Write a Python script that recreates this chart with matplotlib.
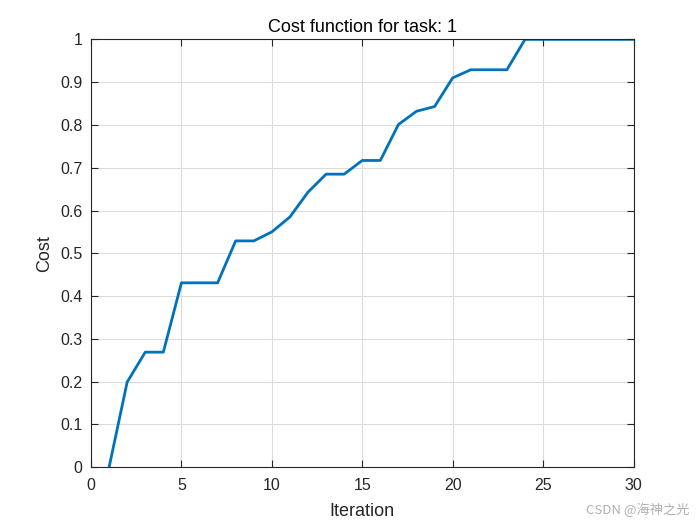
import numpy as np
import matplotlib
matplotlib.use('Agg')
import matplotlib.pyplot as plt

# Valori
iterations = list(range(1, 31))
cost = [0.0, 0.199, 0.269, 0.269, 0.431, 0.431, 0.431, 0.529, 0.529, 0.55,
        0.585, 0.643, 0.685, 0.685, 0.717, 0.717, 0.801, 0.832, 0.843, 0.91,
        0.929, 0.929, 0.929, 1.0, 1.0, 1.0, 1.0, 1.0, 1.0, 1.0]
x_ticks = [0, 5, 10, 15, 20, 25, 30]
y_ticks = [0, 0.1, 0.2, 0.3, 0.4, 0.5, 0.6, 0.7, 0.8, 0.9, 1]
y_tick_labels = ['0', '0.1', '0.2', '0.3', '0.4', '0.5', '0.6', '0.7', '0.8', '0.9', '1']

plt.rcParams['font.family'] = ['Liberation Sans', 'Noto Sans CJK SC', 'DejaVu Sans']

fig = plt.figure(figsize=(7, 5.25), dpi=100)
ax = fig.add_axes([0.13, 0.11, 0.775, 0.815])

ax.plot(iterations, cost, color='#0072BD', linewidth=2)

ax.set_xlim(0, 30)
ax.set_ylim(0, 1)
ax.set_xticks(x_ticks)
ax.set_yticks(y_ticks)
ax.set_yticklabels(y_tick_labels)
ax.tick_params(direction='in', top=True, right=True, labelsize=11.5, length=5,
               width=0.8, colors='#262626')
ax.tick_params(axis='x', pad=8)
ax.tick_params(axis='y', pad=6)
for s in ax.spines.values():
    s.set_color('#262626')
    s.set_linewidth(0.8)
ax.grid(True, color='#dcdcdc', linewidth=0.8)
ax.set_axisbelow(True)

ax.set_xlabel('Iteration', fontsize=13, color='#262626', labelpad=7)
ax.set_ylabel('Cost', fontsize=13, color='#262626', labelpad=5.5)
ax.set_title('Cost function for task: 1', fontsize=13, color='black', pad=5)

# Filigrana
fig.text(0.985, 0.015, 'CSDN @海神之光', ha='right', va='bottom', fontsize=9.5,
         color='#b0b0b0', family=['Noto Sans CJK SC', 'DejaVu Sans'])

fig.savefig('out.png', dpi=100)
plt.close()
